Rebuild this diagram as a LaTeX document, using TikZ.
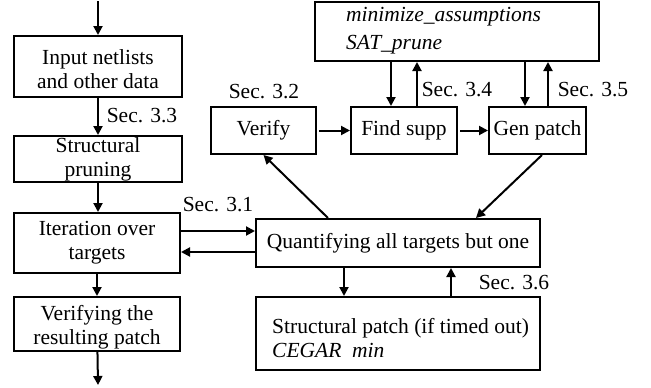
\documentclass[tikz,border=0pt]{standalone}
\usepackage{fontspec}
\setmainfont{Liberation Serif}
\usetikzlibrary{arrows.meta}
\tikzset{
  box/.style={draw, line width=2pt, inner sep=0pt, align=center},
  arr/.style={line width=2pt, -{Triangle[length=9pt,width=9pt]}},
  lbl/.style={inner sep=0pt},
  inbox/.style={inner sep=0pt, anchor=west, align=left},
}
\begin{document}
\begin{tikzpicture}[x=1pt, y=-1pt, font=\fontsize{21.5}{24}\selectfont]
\useasboundingbox (0,0) rectangle (651,388);
% left column
\node[box, minimum width=168pt, minimum height=61pt] (in1) at (98,66.5) {\rule{0pt}{20pt}Input netlists\\and other data};
\node[box, minimum width=168pt, minimum height=46pt] (prune) at (98,159) {Structural\\pruning};
\node[box, minimum width=166pt, minimum height=60pt] (iter) at (97,243) {Iteration over\\targets};
\node[box, minimum width=166pt, minimum height=54pt] (verif) at (97,324) {\rule{0pt}{22pt}Verifying the\\resulting patch};
\coordinate (start) at (98,1);
\coordinate (finish) at (98,385);
% right part
\node[box, minimum width=284pt, minimum height=48pt] (quant) at (398,243) {Quantifying all targets but one};
\node[box, minimum width=284pt, minimum height=73pt] (spatch) at (398,333.5) {};
\node[inbox] (spatchtxt) at (272,338) {Structural patch (if timed out)\\\textit{CEGAR\ \ min}};
\node[box, minimum width=284pt, minimum height=59pt] (top) at (457,31.5) {};
\node[inbox] (toptxt) at (346,31) {\textit{minimize\_assumptions}\\[4pt]\textit{SAT\_prune}};
\node[box, minimum width=105pt, minimum height=47pt] (verify) at (263.5,130.5) {Verify};
\node[box, minimum width=106pt, minimum height=47pt] (find) at (404,130.5) {Find supp};
\node[box, minimum width=97pt, minimum height=47pt] (gen) at (537.5,130.5) {Gen patch};
% attachment points on the option box
\coordinate (fdn) at ([xshift=-13pt]find.north);
\coordinate (fup) at ([xshift=13pt]find.north);
\coordinate (gdn) at ([xshift=-12.5pt]gen.north);
\coordinate (gup) at ([xshift=10.5pt]gen.north);
% connectors
\draw[arr] (start) -- (in1);
\draw[arr] (in1) -- (prune);
\draw[arr] (prune.south) -- (prune.south |- iter.north);
\draw[arr] (iter) -- (verif);
\draw[arr] (verif) -- (finish);
\draw[arr] ([yshift=12pt]iter.east) -- ([yshift=12pt]quant.west);
\draw[arr] ([yshift=-9pt]quant.west) -- ([yshift=-9pt]iter.east);
\draw[arr] ([xshift=-54pt]quant.south) -- ([xshift=-54pt]spatch.north);
\draw[arr] ([xshift=53pt]spatch.north) -- ([xshift=53pt]quant.south);
\draw[arr] ([xshift=2pt]verify.east) -- (find.west);
\draw[arr] ([xshift=2pt]find.east) -- (gen.west);
\draw[arr] (top.south -| fdn) -- (fdn);
\draw[arr] (fup) -- (top.south -| fup);
\draw[arr] (top.south -| gdn) -- (gdn);
\draw[arr] (gup) -- (top.south -| gup);
\draw[arr] ([xshift=-70pt]quant.north) -- (verify.south);
\draw[arr] ([xshift=4.5pt]gen.south) -- ([xshift=78pt]quant.north);
% section labels
\node[lbl] (s33) at (142,116) {Sec. 3.3};
\node[lbl] (s31) at (218,205) {Sec. 3.1};
\node[lbl] (s32) at (264,92) {Sec. 3.2};
\node[lbl] (s34) at (457,90) {Sec. 3.4};
\node[lbl] (s35) at (593,90) {Sec. 3.5};
\node[lbl] (s36) at (514,283) {Sec. 3.6};
\end{tikzpicture}
\end{document}
